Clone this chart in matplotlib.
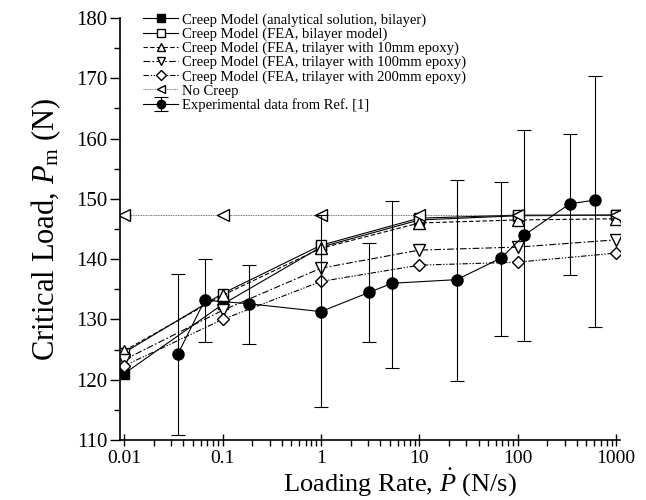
import numpy as np
import matplotlib
matplotlib.use("Agg")
import matplotlib.pyplot as plt
from matplotlib.ticker import FixedLocator, LogLocator, NullFormatter, MultipleLocator

plt.rcParams['font.family'] = ['Liberation Serif', 'DejaVu Serif']
plt.rcParams['mathtext.fontset'] = 'custom'
plt.rcParams['mathtext.rm'] = 'Liberation Serif'
plt.rcParams['mathtext.it'] = 'Liberation Serif:italic'

# model rates (N/s)
rates = [0.01, 0.1, 1, 10, 100, 1000]

analytical_bilayer = [121.0, 132.5, 142.0, 146.5, 147.2, 147.3]
fea_bilayer = [124.5, 134.3, 142.3, 146.8, 147.3, 147.3]
fea_tri_10 = [124.8, 134.0, 141.8, 146.0, 146.5, 146.7]
fea_tri_100 = [123.3, 131.5, 138.5, 141.5, 142.0, 143.2]
fea_tri_200 = [122.3, 130.0, 136.3, 139.0, 139.5, 141.0]
no_creep = [147.3, 147.3, 147.3, 147.3, 147.3, 147.3]

# experimental data
exp_rate = [0.035, 0.066, 0.185, 1.0, 3.1, 5.3, 24, 68, 117, 340, 616]
exp_load = [124.2, 133.2, 132.6, 131.3, 134.5, 136.0, 136.6, 140.2, 144.0, 149.2, 149.8]
exp_low = [110.8, 126.3, 126.0, 115.5, 126.2, 122.0, 119.8, 127.2, 126.4, 137.3, 128.8]
exp_high = [137.6, 140.0, 139.1, 147.3, 142.6, 149.7, 153.1, 152.8, 161.4, 160.8, 170.4]

labels = [
    "Creep Model (analytical solution, bilayer)",
    "Creep Model (FEA, bilayer model)",
    "Creep Model (FEA, trilayer with 10mm epoxy)",
    "Creep Model (FEA, trilayer with 100mm epoxy)",
    "Creep Model (FEA, trilayer with 200mm epoxy)",
    "No Creep",
    "Experimental data from Ref. [1]",
]

fig = plt.figure(figsize=(6.46, 5.0), dpi=100)
ax = fig.add_axes([0.186, 0.12, 0.774, 0.844])

lw = 0.8
ms = 7
ax.plot(rates, analytical_bilayer, '-', color='black', lw=lw, marker='s', ms=ms,
        mfc='black', mec='black', label=labels[0])
ax.plot(rates, fea_bilayer, '-', color='black', lw=lw, marker='s', ms=ms,
        mfc='white', mec='black', label=labels[1])
ax.plot(rates, fea_tri_10, color='black', lw=lw, ls=(0, (4, 2)), marker='^', ms=ms + 1,
        mfc='white', mec='black', label=labels[2])
ax.plot(rates, fea_tri_100, color='black', lw=lw, ls=(0, (6, 2, 1.5, 2)), marker='v', ms=ms + 1,
        mfc='white', mec='black', label=labels[3])
ax.plot(rates, fea_tri_200, color='black', lw=lw, ls=(0, (5, 1.5, 1.2, 1.5, 1.2, 1.5)), marker='D', ms=ms - 0.5,
        mfc='white', mec='black', label=labels[4])
ax.plot(rates, no_creep, color='#444444', lw=0.6, ls=(0, (1, 1)), marker='<', ms=ms + 1,
        mfc='white', mec='black', label=labels[5])

yerr = [np.array(exp_load) - np.array(exp_low), np.array(exp_high) - np.array(exp_load)]
ax.errorbar(exp_rate, exp_load, yerr=yerr, fmt='-o', color='black', lw=lw, ms=ms + 1,
            mfc='black', mec='black', elinewidth=lw, capsize=5, capthick=lw,
            label=labels[6])

ax.set_xscale('log')
ax.set_xlim(0.0091, 1100)
ax.set_ylim(110, 180)

ax.spines['top'].set_visible(False)
ax.spines['right'].set_visible(False)
ax.spines['left'].set_linewidth(1.2)
ax.spines['bottom'].set_linewidth(1.2)

ax.xaxis.set_major_locator(FixedLocator([0.01, 0.1, 1, 10, 100, 1000]))
ax.set_xticklabels(["0.01", "0.1", "1", "10", "100", "1000"])
ax.xaxis.set_minor_locator(LogLocator(base=10, subs=np.arange(2, 10)))
ax.xaxis.set_minor_formatter(NullFormatter())
ax.yaxis.set_major_locator(MultipleLocator(10))
ax.yaxis.set_minor_locator(MultipleLocator(5))

ax.tick_params(axis='x', which='major', direction='inout', length=8, width=1, labelsize=14, pad=3)
ax.tick_params(axis='x', which='minor', direction='out', length=4, width=1)
ax.tick_params(axis='y', which='major', direction='out', length=7, width=1, labelsize=15, pad=2)
ax.tick_params(axis='y', which='minor', direction='out', length=4, width=1)

ax.set_ylabel(r"Critical Load, $P_{\rm m}$ (N)", fontsize=22, labelpad=10)
ax.set_xlabel(r"Loading Rate, $\dot{P}$ (N/s)", fontsize=19, va='center')
ax.xaxis.set_label_coords(0.56, -0.1)

ax.legend(loc='upper left', bbox_to_anchor=(0.035, 1.025), frameon=False, fontsize=10.5,
          handlelength=2.4, handletextpad=0.25, labelspacing=0.05, borderaxespad=0,
          markerscale=0.75)

fig.savefig("out.png", dpi=100)
